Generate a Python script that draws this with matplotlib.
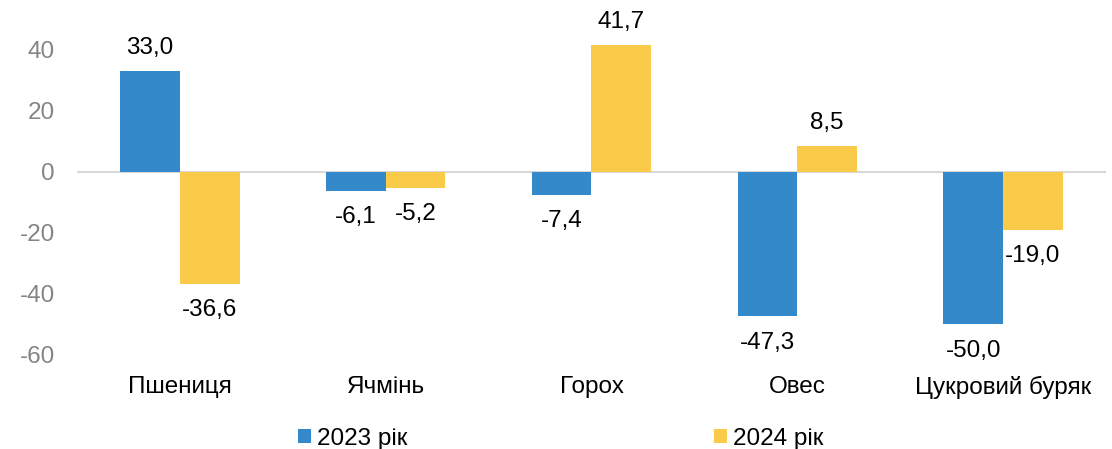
import matplotlib.pyplot as plt
import numpy as np

categories = ['Пшениця', 'Ячмінь', 'Горох', 'Овес', 'Цукровий буряк']
values_2023 = [33.0, -6.1, -7.4, -47.3, -50.0]
values_2024 = [-36.6, -5.2, 41.7, 8.5, -19.0]
series_names = ['2023 рік', '2024 рік']
y_ticks = [-60, -40, -20, 0, 20, 40]

plt.rcParams['font.family'] = ['Liberation Sans', 'DejaVu Sans']

blue = '#3389CA'
yellow = '#FACB48'
fs = 17.5

fig = plt.figure(figsize=(11.12, 4.49), dpi=100)
ax = fig.add_axes([0.0692, 0.2094, 0.9254, 0.7472])

x = np.arange(len(categories))
w = 0.29
b1 = ax.bar(x - w / 2, values_2023, w, color=blue, label=series_names[0])
b2 = ax.bar(x + w / 2, values_2024, w, color=yellow, label=series_names[1])

ax.axhline(0, color='#d9d9d9', linewidth=1.5, zorder=0)

# value labels above positive bars, below negative ones
for bars, vals in ((b1, values_2023), (b2, values_2024)):
    for bar, v in zip(bars, vals):
        cx = bar.get_x() + bar.get_width() / 2
        txt = f'{v:.1f}'.replace('.', ',')
        dy = 16.5 if v >= 0 else -19
        ax.annotate(txt, (cx, v), xytext=(0, dy), textcoords='offset points',
                    ha='center', va='center', fontsize=fs, clip_on=False)

ax.set_xlim(-0.5, len(categories) - 0.5)
ax.set_ylim(-60, 50)
ax.set_yticks(y_ticks)
ax.set_yticklabels([str(t) for t in y_ticks], color='#858585', fontsize=fs)
ax.set_xticks(x)
ax.set_xticklabels(categories, fontsize=fs)
ax.tick_params(axis='both', length=0)
ax.tick_params(axis='y', pad=16)
ax.tick_params(axis='x', pad=15)
for s in ax.spines.values():
    s.set_visible(False)

fig.legend(loc='center', bbox_to_anchor=(0.504, 0.023), ncol=2, frameon=False,
           fontsize=fs, handlelength=0.54, handleheight=0.54, handletextpad=0.24,
           columnspacing=12.6)

fig.savefig('out.png', dpi=100)
